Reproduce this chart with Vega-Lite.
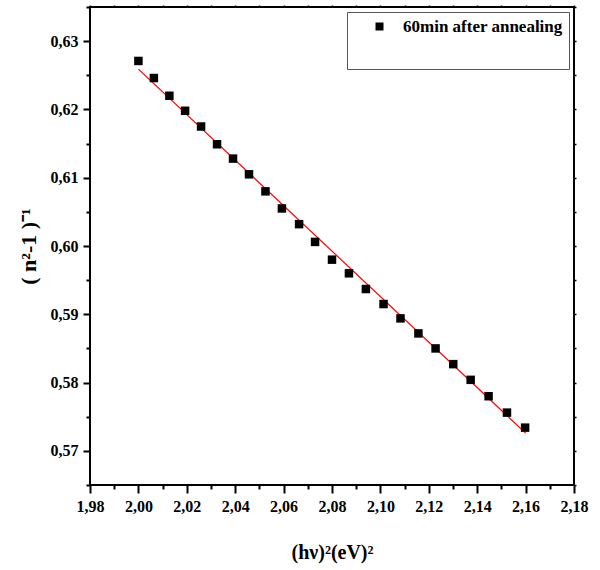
{
  "$schema": "https://vega.github.io/schema/vega-lite/v6.json",
  "autosize": {"type": "none"},
  "padding": {"left": 90, "top": 7, "right": 26, "bottom": 85},
  "width": 484,
  "height": 478,
  "background": "white",
  "datasets": {
    "pts": [
      {"hv2": 2.000, "inv": 0.6271, "series": "60min after annealing"},
      {"hv2": 2.0064, "inv": 0.6246, "series": "60min after annealing"},
      {"hv2": 2.0128, "inv": 0.6220, "series": "60min after annealing"},
      {"hv2": 2.0193, "inv": 0.6198, "series": "60min after annealing"},
      {"hv2": 2.0259, "inv": 0.6175, "series": "60min after annealing"},
      {"hv2": 2.0325, "inv": 0.6149, "series": "60min after annealing"},
      {"hv2": 2.0391, "inv": 0.6128, "series": "60min after annealing"},
      {"hv2": 2.0457, "inv": 0.6105, "series": "60min after annealing"},
      {"hv2": 2.0525, "inv": 0.6080, "series": "60min after annealing"},
      {"hv2": 2.0593, "inv": 0.6055, "series": "60min after annealing"},
      {"hv2": 2.0664, "inv": 0.6032, "series": "60min after annealing"},
      {"hv2": 2.0730, "inv": 0.6006, "series": "60min after annealing"},
      {"hv2": 2.0800, "inv": 0.5980, "series": "60min after annealing"},
      {"hv2": 2.0870, "inv": 0.5960, "series": "60min after annealing"},
      {"hv2": 2.0940, "inv": 0.5937, "series": "60min after annealing"},
      {"hv2": 2.1013, "inv": 0.5915, "series": "60min after annealing"},
      {"hv2": 2.1083, "inv": 0.5894, "series": "60min after annealing"},
      {"hv2": 2.1157, "inv": 0.5872, "series": "60min after annealing"},
      {"hv2": 2.1228, "inv": 0.5850, "series": "60min after annealing"},
      {"hv2": 2.1301, "inv": 0.5827, "series": "60min after annealing"},
      {"hv2": 2.1373, "inv": 0.5804, "series": "60min after annealing"},
      {"hv2": 2.1447, "inv": 0.5780, "series": "60min after annealing"},
      {"hv2": 2.1523, "inv": 0.5756, "series": "60min after annealing"},
      {"hv2": 2.1598, "inv": 0.5734, "series": "60min after annealing"}
    ],
    "fit": [
      {"hv2": 2.000, "inv": 0.6259},
      {"hv2": 2.160, "inv": 0.5726}
    ]
  },
  "resolve": {"axis": {"x": "independent", "y": "independent"}},
  "layer": [
    {
      "data": {"name": "fit"},
      "mark": {"type": "line", "color": "#ff0000", "strokeWidth": 1.2},
      "encoding": {
        "x": {"field": "hv2", "type": "quantitative",
              "scale": {"domain": [1.98, 2.18], "nice": false, "zero": false},
              "axis": {"orient": "bottom", "values": [1.99, 2.01, 2.03, 2.05, 2.07, 2.09, 2.11, 2.13, 2.15, 2.17],
                       "tickSize": 4, "tickWidth": 2, "labels": false, "title": null}},
        "y": {"field": "inv", "type": "quantitative",
              "scale": {"domain": [0.565, 0.635], "nice": false, "zero": false},
              "axis": {"orient": "left", "values": [0.565, 0.575, 0.585, 0.595, 0.605, 0.615, 0.625, 0.635],
                       "tickSize": 4, "tickWidth": 2, "labels": false, "title": null}}
      }
    },
    {
      "data": {"name": "fit"},
      "mark": {"type": "line", "opacity": 0},
      "encoding": {
        "x": {"field": "hv2", "type": "quantitative",
              "axis": {"orient": "top", "values": [1.98, 1.99, 2.0, 2.01, 2.02, 2.03, 2.04, 2.05, 2.06, 2.07, 2.08, 2.09, 2.1, 2.11, 2.12, 2.13, 2.14, 2.15, 2.16, 2.17, 2.18],
                       "tickSize": 2, "tickWidth": 1.5, "labels": false, "title": null}},
        "y": {"field": "inv", "type": "quantitative",
              "axis": {"orient": "right", "values": [0.565, 0.57, 0.575, 0.58, 0.585, 0.59, 0.595, 0.6, 0.605, 0.61, 0.615, 0.62, 0.625, 0.63, 0.635],
                       "tickSize": 2, "tickWidth": 1.5, "labels": false, "title": null}}
      }
    },
    {
      "data": {"name": "pts"},
      "mark": {"type": "square", "size": 72, "opacity": 1},
      "encoding": {
        "x": {"field": "hv2", "type": "quantitative",
              "axis": {"orient": "bottom", "values": [1.98, 2.0, 2.02, 2.04, 2.06, 2.08, 2.1, 2.12, 2.14, 2.16, 2.18],
                       "tickSize": 8, "tickWidth": 2, "labelPadding": 5, "labelFlush": false, "labelOverlap": false,
                       "labelExpr": "replace(format(datum.value, '.2f'), '.', ',')",
                       "title": "(hν)²(eV)²", "titlePadding": 28, "titleFontSize": 20}},
        "y": {"field": "inv", "type": "quantitative",
              "axis": {"orient": "left", "values": [0.57, 0.58, 0.59, 0.6, 0.61, 0.62, 0.63],
                       "tickSize": 7, "tickWidth": 2, "labelPadding": 5, "labelFlush": false, "labelOverlap": false,
                       "labelExpr": "replace(format(datum.value, '.2f'), '.', ',')",
                       "title": "( n²-1 )⁻¹", "titlePadding": 10, "titleFontSize": 22}},
        "color": {"field": "series", "type": "nominal",
                  "scale": {"range": ["black"]},
                  "legend": {"orient": "none", "legendX": 257, "legendY": 5,
                             "title": " ", "titleOrient": "bottom", "titleFontSize": 24, "titlePadding": 4,
                             "strokeColor": "#555", "fillColor": "white", "padding": 6,
                             "symbolType": "square", "symbolSize": 64, "symbolOffset": 18, "labelOffset": 15,
                             "symbolFillColor": "black", "symbolStrokeWidth": 0,
                             "labelFont": "Liberation Serif", "labelFontWeight": "bold", "labelFontSize": 17, "labelColor": "black", "labelLimit": 300}}
      }
    }
  ],
  "config": {
    "view": {"stroke": "black", "strokeWidth": 2},
    "axis": {
      "domain": false, "grid": false,
      "tickColor": "black",
      "labelFont": "Liberation Serif", "labelFontWeight": "bold", "labelFontSize": 16, "labelColor": "black",
      "titleFont": "Liberation Serif", "titleFontWeight": "bold", "titleFontSize": 17, "titleColor": "black"
    }
  }
}
